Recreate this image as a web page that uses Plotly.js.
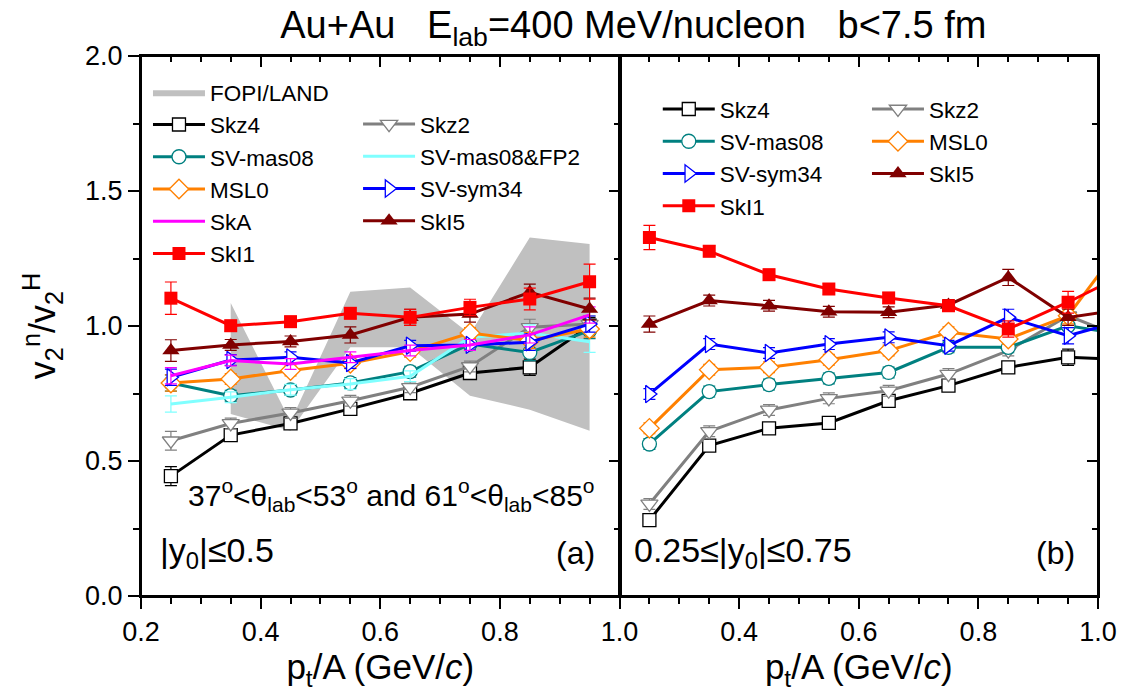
<!DOCTYPE html>
<html>
<head>
<meta charset="utf-8">
<script src="https://cdn.plot.ly/plotly-3.0.1.min.js"></script>
<style>html,body{margin:0;padding:0;background:#fff;}#chart{width:1123px;height:700px;}</style>
</head>
<body>
<div id="chart"></div>
<script>
// ---------- data ----------
const xL = [0.25, 0.35, 0.45, 0.55, 0.65, 0.75, 0.85, 0.95];
const xR = [0.25, 0.35, 0.45, 0.55, 0.65, 0.75, 0.85, 0.95, 1.05];

// FOPI/LAND band (left panel)
const bandX = [0.35, 0.45, 0.55, 0.65, 0.75, 0.85, 0.95];
const bandUpper = [1.085, 0.645, 1.127, 1.143, 0.970, 1.328, 1.304];
const bandLower = [0.674, 0.612, 0.921, 0.921, 0.742, 0.690, 0.612];

// left panel (a)
const L_Skz4   = [0.444, 0.596, 0.639, 0.693, 0.751, 0.826, 0.847, 1.001];
const L_Skz2   = [0.575, 0.639, 0.678, 0.723, 0.773, 0.850, 0.995, 1.007];
const L_SVmas  = [0.789, 0.742, 0.763, 0.789, 0.831, 0.933, 0.902, 0.983];
const L_FP2    = [0.711, 0.736, 0.764, 0.785, 0.814, 0.958, 0.974, 0.942];
const L_MSL0   = [0.789, 0.804, 0.835, 0.862, 0.905, 0.974, 0.946, 0.989];
const L_SVsym  = [0.810, 0.874, 0.884, 0.863, 0.927, 0.930, 0.940, 1.007];
const L_SkA    = [0.816, 0.872, 0.859, 0.884, 0.909, 0.930, 0.967, 1.041];
const L_SkI5   = [0.909, 0.930, 0.943, 0.967, 1.032, 1.044, 1.125, 1.063];
const L_SkI1   = [1.103, 1.001, 1.016, 1.047, 1.032, 1.069, 1.100, 1.164];

const L_eSkz4  = [0.035, 0.02, 0.02, 0.02, 0.02, 0.02, 0.03, 0.03];
const L_eSkz2  = [0.035, 0.02, 0.02, 0.02, 0.02, 0.02, 0.03, 0.03];
const L_eSVmas = [0.03, 0.02, 0.02, 0.02, 0.02, 0.02, 0.03, 0.03];
const L_eFP2   = [0.03, 0.02, 0.02, 0.02, 0.02, 0.02, 0.03, 0.04];
const L_eMSL0  = [0.03, 0.02, 0.02, 0.02, 0.02, 0.02, 0.03, 0.03];
const L_eSVsym = [0.03, 0.02, 0.02, 0.02, 0.02, 0.02, 0.03, 0.03];
const L_eSkA   = [0.03, 0.02, 0.02, 0.02, 0.02, 0.02, 0.03, 0.03];
const L_eSkI5  = [0.04, 0.02, 0.02, 0.03, 0.03, 0.03, 0.03, 0.04];
const L_eSkI1  = [0.06, 0.02, 0.02, 0.02, 0.03, 0.03, 0.04, 0.065];

// right panel (b)
const R_Skz4   = [0.281, 0.557, 0.621, 0.641, 0.723, 0.779, 0.847, 0.884, 0.876];
const R_Skz2   = [0.341, 0.610, 0.689, 0.732, 0.760, 0.822, 0.909, 1.038, 0.950];
const R_SVmas  = [0.563, 0.757, 0.783, 0.806, 0.828, 0.921, 0.921, 1.001, 0.965];
const R_MSL0   = [0.621, 0.838, 0.847, 0.875, 0.909, 0.977, 0.952, 1.038, 1.334];
const R_SVsym  = [0.748, 0.933, 0.900, 0.933, 0.958, 0.927, 1.032, 0.964, 1.026];
const R_SkI5   = [1.007, 1.094, 1.075, 1.053, 1.051, 1.078, 1.180, 1.032, 1.064];
const R_SkI1   = [1.328, 1.277, 1.190, 1.137, 1.104, 1.075, 0.989, 1.088, 1.198];

const R_eSkz4  = [0.02, 0.02, 0.02, 0.02, 0.02, 0.02, 0.02, 0.03, 0];
const R_eSkz2  = [0.02, 0.02, 0.02, 0.02, 0.02, 0.02, 0.02, 0.03, 0];
const R_eSVmas = [0.02, 0.02, 0.02, 0.02, 0.02, 0.02, 0.02, 0.03, 0];
const R_eMSL0  = [0.02, 0.02, 0.02, 0.02, 0.02, 0.02, 0.02, 0.03, 0];
const R_eSVsym = [0.02, 0.02, 0.02, 0.02, 0.02, 0.02, 0.03, 0.03, 0];
const R_eSkI5  = [0.03, 0.02, 0.02, 0.02, 0.02, 0.02, 0.03, 0.03, 0];
const R_eSkI1  = [0.045, 0.02, 0.02, 0.02, 0.02, 0.02, 0.03, 0.04, 0];

const xTickVals = [0.2, 0.4, 0.6, 0.8, 1.0];
const xTickTextL = ['0.2', '0.4', '0.6', '0.8', '1.0'];
const xTickTextR = ['', '0.4', '0.6', '0.8', '1.0'];

// ---------- styles ----------
const FONT = 'Liberation Sans, Arial, sans-serif';
const C = {
  Skz4: '#000000', Skz2: '#808080', SVmas: '#008080', FP2: '#80FFFF',
  MSL0: '#FF8000', SVsym: '#0000FF', SkA: '#FF00FF', SkI5: '#800000', SkI1: '#FF0000'
};

function series(x, y, err, name, color, symbol, filled, xa, ya, legend, size) {
  const t = {
    type: 'scatter', mode: symbol ? 'lines+markers' : 'lines',
    x: x, y: y, name: name, xaxis: xa, yaxis: ya, legend: legend,
    line: {color: color, width: 3},
    error_y: {type: 'data', array: err, visible: true, color: color, thickness: 1.2, width: 6},
    cliponaxis: true
  };
  if (symbol) {
    t.marker = {symbol: symbol, size: size || 13,
      color: filled ? color : '#FFFFFF', line: {color: color, width: filled ? 0 : 1.3}};
  }
  return t;
}

const traces = [];
// band
traces.push({
  type: 'scatter', mode: 'lines', name: 'FOPI/LAND',
  x: bandX.concat(bandX.slice().reverse()),
  y: bandUpper.concat(bandLower.slice().reverse()),
  fill: 'toself', fillcolor: '#C0C0C0', line: {width: 0, color: '#C0C0C0'},
  xaxis: 'x', yaxis: 'y', legend: 'legend', hoverinfo: 'skip'
});
// left panel
traces.push(series(xL, L_Skz4, L_eSkz4, 'Skz4', C.Skz4, 'square', false, 'x', 'y', 'legend'));
traces.push(series(xL, L_Skz2, L_eSkz2, 'Skz2', C.Skz2, 'triangle-down', false, 'x', 'y', 'legend2', 15));
traces.push(series(xL, L_SVmas, L_eSVmas, 'SV-mas08', C.SVmas, 'circle', false, 'x', 'y', 'legend', 14));
traces.push(series(xL, L_FP2, L_eFP2, 'SV-mas08&FP2', C.FP2, null, false, 'x', 'y', 'legend2'));
traces.push(series(xL, L_MSL0, L_eMSL0, 'MSL0', C.MSL0, 'diamond', false, 'x', 'y', 'legend', 15));
traces.push(series(xL, L_SVsym, L_eSVsym, 'SV-sym34', C.SVsym, 'triangle-right', false, 'x', 'y', 'legend2', 15));
traces.push(series(xL, L_SkA, L_eSkA, 'SkA', C.SkA, null, false, 'x', 'y', 'legend'));
traces.push(series(xL, L_SkI5, L_eSkI5, 'SkI5', C.SkI5, 'triangle-up', true, 'x', 'y', 'legend2', 15));
traces.push(series(xL, L_SkI1, L_eSkI1, 'SkI1', C.SkI1, 'square', true, 'x', 'y', 'legend'));
// right panel
traces.push(series(xR, R_Skz4, R_eSkz4, 'Skz4', C.Skz4, 'square', false, 'x2', 'y2', 'legend3'));
traces.push(series(xR, R_Skz2, R_eSkz2, 'Skz2', C.Skz2, 'triangle-down', false, 'x2', 'y2', 'legend4', 15));
traces.push(series(xR, R_SVmas, R_eSVmas, 'SV-mas08', C.SVmas, 'circle', false, 'x2', 'y2', 'legend3', 14));
traces.push(series(xR, R_MSL0, R_eMSL0, 'MSL0', C.MSL0, 'diamond', false, 'x2', 'y2', 'legend4', 15));
traces.push(series(xR, R_SVsym, R_eSVsym, 'SV-sym34', C.SVsym, 'triangle-right', false, 'x2', 'y2', 'legend3', 15));
traces.push(series(xR, R_SkI5, R_eSkI5, 'SkI5', C.SkI5, 'triangle-up', true, 'x2', 'y2', 'legend4', 15));
traces.push(series(xR, R_SkI1, R_eSkI1, 'SkI1', C.SkI1, 'square', true, 'x2', 'y2', 'legend3'));
// placeholder traces (one null point, nothing drawn) so the top/right axes with inside ticks exist
traces.push({type: 'scatter', mode: 'lines', x: [null], y: [null], xaxis: 'x3', yaxis: 'y3', showlegend: false});
traces.push({type: 'scatter', mode: 'lines', x: [null], y: [null], xaxis: 'x4', yaxis: 'y4', showlegend: false});

// ---------- axes ----------
const tickFont = {family: FONT, size: 27, color: '#000'};
function xAx(text, ticktext, extra) {
  return Object.assign({
    range: [0.2, 1.0], tickmode: 'array', tickvals: xTickVals, ticktext: ticktext,
    ticks: 'outside', ticklen: 11, tickwidth: 2, tickcolor: '#000',
    minor: {tickmode: 'linear', tick0: 0.2, dtick: 0.05, ticks: 'outside', ticklen: 6, tickwidth: 2, tickcolor: '#000'},
    showline: true, mirror: true, linewidth: 2, linecolor: '#000', showgrid: false, zeroline: false,
    tickfont: tickFont,
    title: {text: text, font: {family: FONT, size: 35, color: '#000'}, standoff: 4}
  }, extra);
}
function topAx(domain, anchor) {
  return {
    domain: domain, side: 'top', anchor: anchor, range: [0.2, 1.0],
    tickmode: 'linear', tick0: 0.2, dtick: 0.2, showticklabels: false,
    ticks: 'inside', ticklen: 11, tickwidth: 2, tickcolor: '#000',
    minor: {tickmode: 'linear', tick0: 0.2, dtick: 0.05, ticks: 'inside', ticklen: 6, tickwidth: 2, tickcolor: '#000'},
    showline: true, linewidth: 2, linecolor: '#000', showgrid: false, zeroline: false
  };
}
function rightAx(anchor) {
  return {
    domain: [0, 1], side: 'right', anchor: anchor, range: [0, 2],
    tickmode: 'linear', tick0: 0, dtick: 0.5, showticklabels: false,
    ticks: 'inside', ticklen: 11, tickwidth: 2, tickcolor: '#000',
    minor: {tickmode: 'linear', tick0: 0, dtick: 0.25, ticks: 'inside', ticklen: 6, tickwidth: 2, tickcolor: '#000'},
    showline: true, linewidth: 2, linecolor: '#000', showgrid: false, zeroline: false
  };
}

const legendBase = {
  bgcolor: 'rgba(0,0,0,0)', borderwidth: 0, orientation: 'v',
  font: {family: FONT, size: 22.5, color: '#000'}, itemwidth: 52,
  xanchor: 'left', yanchor: 'top', traceorder: 'normal'
};

// panel frames (drawn in each panel's own domain coordinates)
const frames = ['x', 'x2'].map(function(ax, i) {
  return {type: 'rect', layer: 'above', xref: ax + ' domain', yref: (i ? 'y2' : 'y') + ' domain',
          x0: 0, x1: 1, y0: 0, y1: 1, line: {color: '#000', width: 2}, fillcolor: 'rgba(0,0,0,0)'};
});

const layout = {
  width: 1123, height: 700,
  margin: {l: 141, r: 25, t: 56, b: 104, pad: 0},
  paper_bgcolor: '#fff', plot_bgcolor: 'rgba(0,0,0,0)',
  font: {family: FONT, color: '#000'},
  showlegend: true,
  title: {
    text: 'Au+Au&nbsp;&nbsp;&nbsp;E<sub>lab</sub>=400 MeV/nucleon&nbsp;&nbsp;&nbsp;b&lt;7.5 fm',
    font: {family: FONT, size: 38, color: '#000'},
    x: 0.564, xanchor: 'center', y: 0.965, yanchor: 'middle'
  },
  xaxis: xAx('p<sub>t</sub>/A (GeV/<i>c</i>)', xTickTextL, {domain: [0, 0.5], anchor: 'y'}),
  xaxis2: xAx('p<sub>t</sub>/A (GeV/<i>c</i>)', xTickTextR, {domain: [0.5, 1], anchor: 'y2'}),
  xaxis3: topAx([0, 0.5], 'y3'),
  xaxis4: topAx([0.5, 1], 'y4'),
  yaxis: {
    domain: [0, 1], anchor: 'x', range: [0, 2], tickmode: 'linear', tick0: 0, dtick: 0.5, tickformat: '.1f',
    ticks: 'outside', ticklen: 11, tickwidth: 2, tickcolor: '#000',
    minor: {tickmode: 'linear', tick0: 0, dtick: 0.25, ticks: 'outside', ticklen: 6, tickwidth: 2, tickcolor: '#000'},
    showline: true, mirror: true, linewidth: 2, linecolor: '#000', showgrid: false, zeroline: false,
    tickfont: tickFont,
    title: {text: 'v<sub>2</sub><sup>n</sup>/v<sub>2</sub><sup>H</sup>', font: {family: FONT, size: 36, color: '#000'}, standoff: 18}
  },
  yaxis2: {
    domain: [0, 1], anchor: 'x2', range: [0, 2], tickmode: 'linear', tick0: 0, dtick: 0.5,
    showticklabels: false, ticks: '', showline: true, mirror: true, linewidth: 2, linecolor: '#000',
    showgrid: false, zeroline: false
  },
  yaxis3: rightAx('x3'),
  yaxis4: rightAx('x4'),
  legend:  Object.assign({}, legendBase, {x: 0.0073, y: 0.972}),
  legend2: Object.assign({}, legendBase, {x: 0.2268, y: 0.913}),
  legend3: Object.assign({}, legendBase, {x: 0.540, y: 0.941}),
  legend4: Object.assign({}, legendBase, {x: 0.7586, y: 0.941}),
  shapes: frames,
  annotations: [
    {xref: 'paper', yref: 'paper', x: 0.262, y: 0.187, xanchor: 'center', yanchor: 'middle', showarrow: false,
     text: '37<sup>o</sup>&lt;θ<sub>lab</sub>&lt;53<sup>o</sup> and 61<sup>o</sup>&lt;θ<sub>lab</sub>&lt;85<sup>o</sup>',
     font: {family: FONT, size: 30, color: '#000'}},
    {xref: 'paper', yref: 'paper', x: 0.018, y: 0.08, xanchor: 'left', yanchor: 'middle', showarrow: false,
     text: '|y<sub>0</sub>|≤0.5', font: {family: FONT, size: 34, color: '#000'}},
    {xref: 'paper', yref: 'paper', x: 0.4765, y: 0.08, xanchor: 'right', yanchor: 'middle', showarrow: false,
     text: '(a)', font: {family: FONT, size: 32, color: '#000'}},
    {xref: 'paper', yref: 'paper', x: 0.513, y: 0.08, xanchor: 'left', yanchor: 'middle', showarrow: false,
     text: '0.25≤|y<sub>0</sub>|≤0.75', font: {family: FONT, size: 34, color: '#000'}},
    {xref: 'paper', yref: 'paper', x: 0.978, y: 0.08, xanchor: 'right', yanchor: 'middle', showarrow: false,
     text: '(b)', font: {family: FONT, size: 32, color: '#000'}}
  ]
};

Plotly.newPlot('chart', traces, layout, {displayModeBar: false, staticPlot: true});
</script>
</body>
</html>
